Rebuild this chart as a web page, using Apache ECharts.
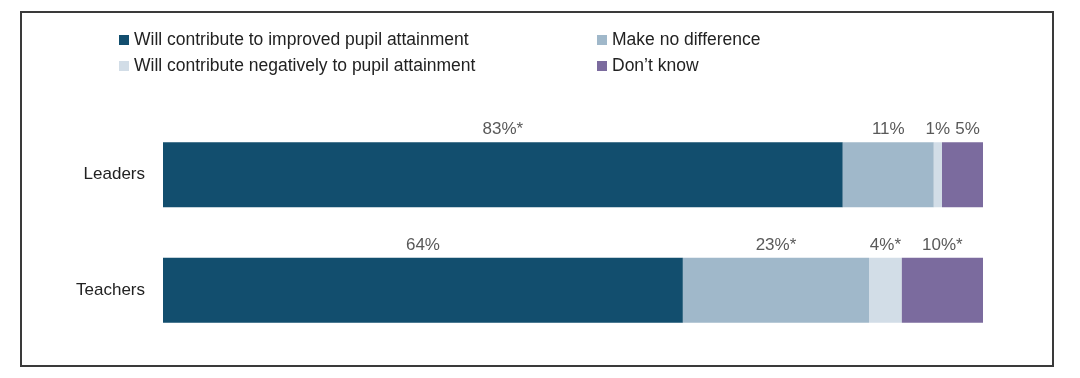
<!DOCTYPE html>
<html>
<head>
<meta charset="utf-8">
<script src="https://cdn.jsdelivr.net/npm/echarts@6/dist/echarts.min.js"></script>
<style>
html,body{margin:0;padding:0;background:#fff;}
#c{width:1080px;height:378px;}
</style>
</head>
<body>
<div id="c"></div>
<script>
const categories = ['Leaders', 'Teachers'];
const seriesNames = [
  'Will contribute to improved pupil attainment',
  'Make no difference',
  'Will contribute negatively to pupil attainment',
  "Don\u2019t know"
];
const improved = [82.9, 63.4];
const noDifference = [11.1, 22.7];
const negative = [1.0, 4.0];
const dontKnow = [5.0, 9.9];
const improvedLabels = ['83%*', '64%'];
const noDifferenceLabels = ['11%', '23%*'];
const negativeLabels = ['1%', '4%*'];
const dontKnowLabels = ['5%', '10%*'];

const colors = ['#124e6e', '#a0b8ca', '#d2dde7', '#7b6b9e'];
const labelOffsets = [[[0,0],[0,0]], [[0,0],[0,0]], [[0,0],[0,0]], [[5,0],[0,0]]];

function mk(name, vals, labels, color, idx) {
  return {
    name: name,
    type: 'bar',
    stack: 'total',
    barWidth: 65,
    itemStyle: { color: color },
    label: {
      show: true,
      position: 'top',
      distance: 4,
      color: '#595959',
      fontSize: 17,
      fontFamily: 'Liberation Sans, Arial, sans-serif'
    },
    data: vals.map((v, i) => ({
      value: v,
      label: { formatter: labels[i], offset: labelOffsets[idx][i] }
    }))
  };
}

const chart = echarts.init(document.getElementById('c'), null, { renderer: 'canvas' });
const legendText = { color: '#222', fontSize: 17.5, fontFamily: 'Liberation Sans, Arial, sans-serif', lineHeight: 17 };
chart.setOption({
  animation: false,
  backgroundColor: '#fff',
  graphic: [{
    type: 'rect',
    shape: { x: 21, y: 12, width: 1032, height: 354 },
    style: { fill: 'none', stroke: '#3a3a3a', lineWidth: 2 },
    silent: true
  }],
  legend: [
    {
      orient: 'vertical', left: 114, top: 26, itemGap: 8,
      itemWidth: 10, itemHeight: 10, icon: 'rect',
      textStyle: legendText,
      data: [seriesNames[0], seriesNames[2]]
    },
    {
      orient: 'vertical', left: 592, top: 26, itemGap: 8,
      itemWidth: 10, itemHeight: 10, icon: 'rect',
      textStyle: legendText,
      data: [seriesNames[1], seriesNames[3]]
    }
  ],
  grid: { left: 163, right: 97, top: 117, bottom: 30, containLabel: false },
  xAxis: { type: 'value', min: 0, max: 100, show: false },
  yAxis: {
    type: 'category', inverse: true, data: categories,
    axisLine: { show: false }, axisTick: { show: false },
    axisLabel: { color: '#222', fontSize: 17, margin: 18, fontFamily: 'Liberation Sans, Arial, sans-serif' }
  },
  series: [
    mk(seriesNames[0], improved, improvedLabels, colors[0], 0),
    mk(seriesNames[1], noDifference, noDifferenceLabels, colors[1], 1),
    mk(seriesNames[2], negative, negativeLabels, colors[2], 2),
    mk(seriesNames[3], dontKnow, dontKnowLabels, colors[3], 3)
  ]
});
</script>
</body>
</html>
